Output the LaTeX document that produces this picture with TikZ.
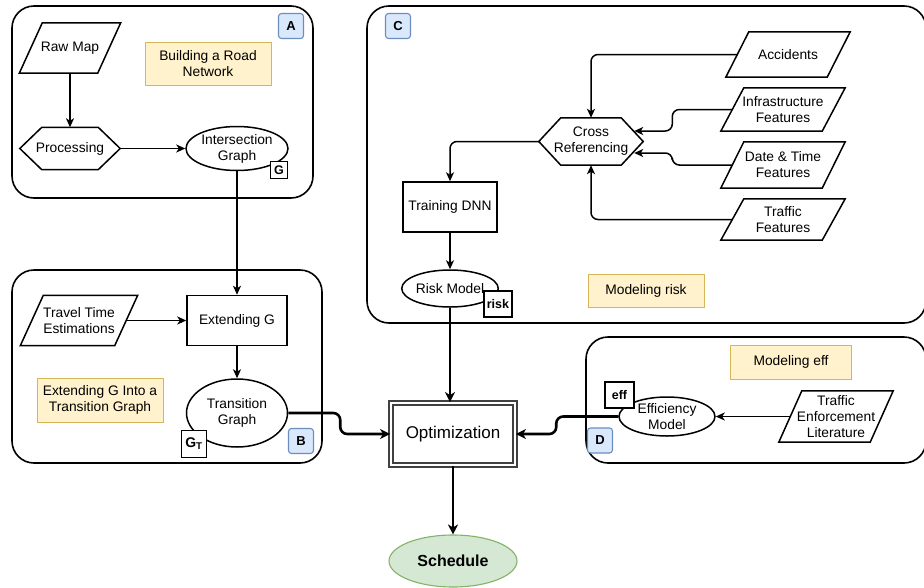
\documentclass[tikz,border=0pt]{standalone}
\usepackage{fontspec}
\setmainfont{Liberation Sans}
\usetikzlibrary{arrows.meta,shapes.geometric}
\definecolor{ylwfill}{HTML}{FFF2CC}
\definecolor{ylwdraw}{HTML}{D6B656}
\definecolor{bluefill}{HTML}{DAE8FC}
\definecolor{bluedraw}{HTML}{6C8EBF}
\definecolor{grnfill}{HTML}{D5E8D4}
\definecolor{grndraw}{HTML}{82B366}
\tikzset{
 base/.style={font=\fontsize{13.8}{16}\selectfont, align=center, inner sep=0pt},
 container/.style={draw, line width=1.6pt, rounded corners=22pt},
 boxnode/.style={base, draw, line width=1.5pt, fill=white},
 ellnode/.style={base, draw, line width=1.5pt, ellipse, fill=white},
 tagbox/.style={draw, line width=1.4pt, fill=white, font=\bfseries\fontsize{12.5}{14}\selectfont, inner sep=0pt},
 letter/.style={draw=bluedraw, fill=bluefill, rounded corners=3pt, line width=1.1pt, minimum size=25pt, font=\bfseries\fontsize{13}{14}\selectfont, inner sep=0pt},
 note/.style={base, draw=ylwdraw, fill=ylwfill, line width=0.9pt},
 conn/.style={line width=1.5pt, -{Stealth[length=9pt,width=8pt,inset=2.5pt]}, rounded corners=7pt},
 bigconn/.style={line width=2.6pt, -{Stealth[length=10pt,width=10pt,inset=3pt]}, rounded corners=7pt},
 shapeline/.style={line width=1.5pt},
}
\newcommand\parallelo[6]{%
 \node[base, minimum width=#4pt, minimum height=#5pt] (#1) at (#2,#3) {#6};
 \draw[shapeline, fill=white] ([xshift=23pt]#1.north west) -- (#1.north east) -- ([xshift=-23pt]#1.south east) -- (#1.south west) -- cycle;
 \node[base] at (#1) {#6};
}
\newcommand\hexa[6]{%
 \node[base, minimum width=#4pt, minimum height=#5pt] (#1) at (#2,#3) {#6};
 \draw[shapeline, fill=white] (#1.west) -- ([xshift=22pt]#1.north west) -- ([xshift=-22pt]#1.north east) -- (#1.east) -- ([xshift=-22pt]#1.south east) -- ([xshift=22pt]#1.south west) -- cycle;
 \node[base] at (#1) {#6};
}
\begin{document}
\begin{tikzpicture}[x=1pt,y=-1pt]
\useasboundingbox (0,0) rectangle (924,587);
% containers
\draw[container] (12,6) rectangle (313,198);
\draw[container] (12,270) rectangle (322,463);
\draw[container] (367,6) rectangle (926,323);
\draw[container] (586,337) rectangle (926,463);
% labels
\node[letter] (labA) at (291,26) {A};
\node[letter] (labB) at (301,441) {B};
\node[letter] (labC) at (398,26) {C};
\node[letter] (labD) at (600,440.5) {D};
% notes
\node[note, minimum width=126pt, minimum height=43pt] (note1) at (208,64) {Building a Road\\Network};
\node[note, minimum width=126pt, minimum height=44pt] (note2) at (100,400) {Extending G Into a\\Transition Graph};
\node[note, minimum width=116pt, minimum height=33pt] (note3) at (646,290.5) {Modeling risk};
\node[note, minimum width=121pt, minimum height=34pt] (note4) at (791,362) {Modeling eff};
% block A
\parallelo{rawmap}{70}{48}{101}{50}{Raw Map}
\hexa{proc}{70}{148.5}{100}{42}{Processing}
\node[ellnode, minimum width=102pt, minimum height=44pt] (igraph) at (237,148.5) {Intersection\\Graph};
\node[tagbox, minimum size=17pt] (gtag) at (279,170) {G};
% block B
\parallelo{travel}{79}{320.5}{117}{50}{Travel Time\\Estimations}
\node[boxnode, minimum width=100pt, minimum height=50pt] (extg) at (237,320.5) {Extending G};
\node[ellnode, minimum width=101pt, minimum height=68pt] (tgraph) at (237,413) {Transition\\Graph};
\node[tagbox, minimum width=25pt, minimum height=27pt, font=\bfseries\fontsize{14}{14}\selectfont] (gttag) at (194,444) {G\textsubscript{T}};
% block C
\parallelo{acc}{788}{54.5}{124}{45}{Accidents}
\parallelo{infra}{783}{109.5}{124}{43}{Infrastructure\\Features}
\parallelo{datet}{783}{165}{124}{46}{Date \& Time\\Features}
\parallelo{traffic}{783}{219.5}{124}{41}{Traffic\\Features}
\hexa{cross}{591}{141.5}{104}{47}{Cross\\Referencing}
\node[boxnode, minimum width=94pt, minimum height=50pt] (train) at (450,207) {Training DNN};
\node[ellnode, minimum width=94pt, minimum height=37pt] (risk) at (450,288.5) {Risk Model};
\node[tagbox, minimum width=28pt, minimum height=26pt] (risktag) at (498,304) {risk};
% block D
\node[ellnode, minimum width=96pt, minimum height=39pt] (effm) at (667,416.5) {Efficiency\\Model};
\node[tagbox, minimum width=29pt, minimum height=26pt] (efftag) at (619.5,395) {eff};
\parallelo{tel}{836}{416.5}{114}{51}{Traffic\\Enforcement\\Literature}
% center
\node[base, draw=black!75, double=white, double distance=2pt, line width=1.9pt, fill=white, minimum width=124pt, minimum height=62pt, font=\fontsize{17}{20}\selectfont] (opt) at (453,434) {Optimization};
\node[base, ellipse, draw=grndraw, fill=grnfill, line width=1.1pt, minimum width=128pt, minimum height=52pt, font=\bfseries\fontsize{16}{20}\selectfont] (sched) at (453,561) {Schedule};
% connectors
\draw[conn] (rawmap.south) -- (proc.north);
\draw[conn] (proc.east) -- (igraph.west);
\draw[conn] (igraph.south) -- (extg.north);
\draw[conn] ([xshift=-11.5pt]travel.east) -- (extg.west);
\draw[conn] (extg.south) -- (tgraph.north);
\draw[bigconn] (tgraph.east) -- ++(52,0) |- (opt.west);
\draw[conn] ([xshift=11.5pt]acc.west) -| (cross.north);
\draw[conn] ([xshift=11.5pt]infra.west) -- ++(-60,0) |- ([xshift=-9pt,yshift=10.5pt]cross.east);
\draw[conn] ([xshift=11.5pt]datet.west) -- ++(-60,0) |- ([xshift=-9pt,yshift=-11.5pt]cross.east);
\draw[conn] ([xshift=11.5pt]traffic.west) -| (cross.south);
\draw[conn] (cross.west) -| (train.north);
\draw[conn] (train.south) -- (risk.north);
\draw[bigconn] (risk.south) -- (risk.south |- opt.north);
\draw[conn] ([xshift=11.5pt]tel.west) -- (effm.east);
\draw[bigconn] (effm.west) -- ++(-62,0) |- (opt.east);
\draw[bigconn] (opt.south) -- (sched.north);
\end{tikzpicture}
\end{document}
